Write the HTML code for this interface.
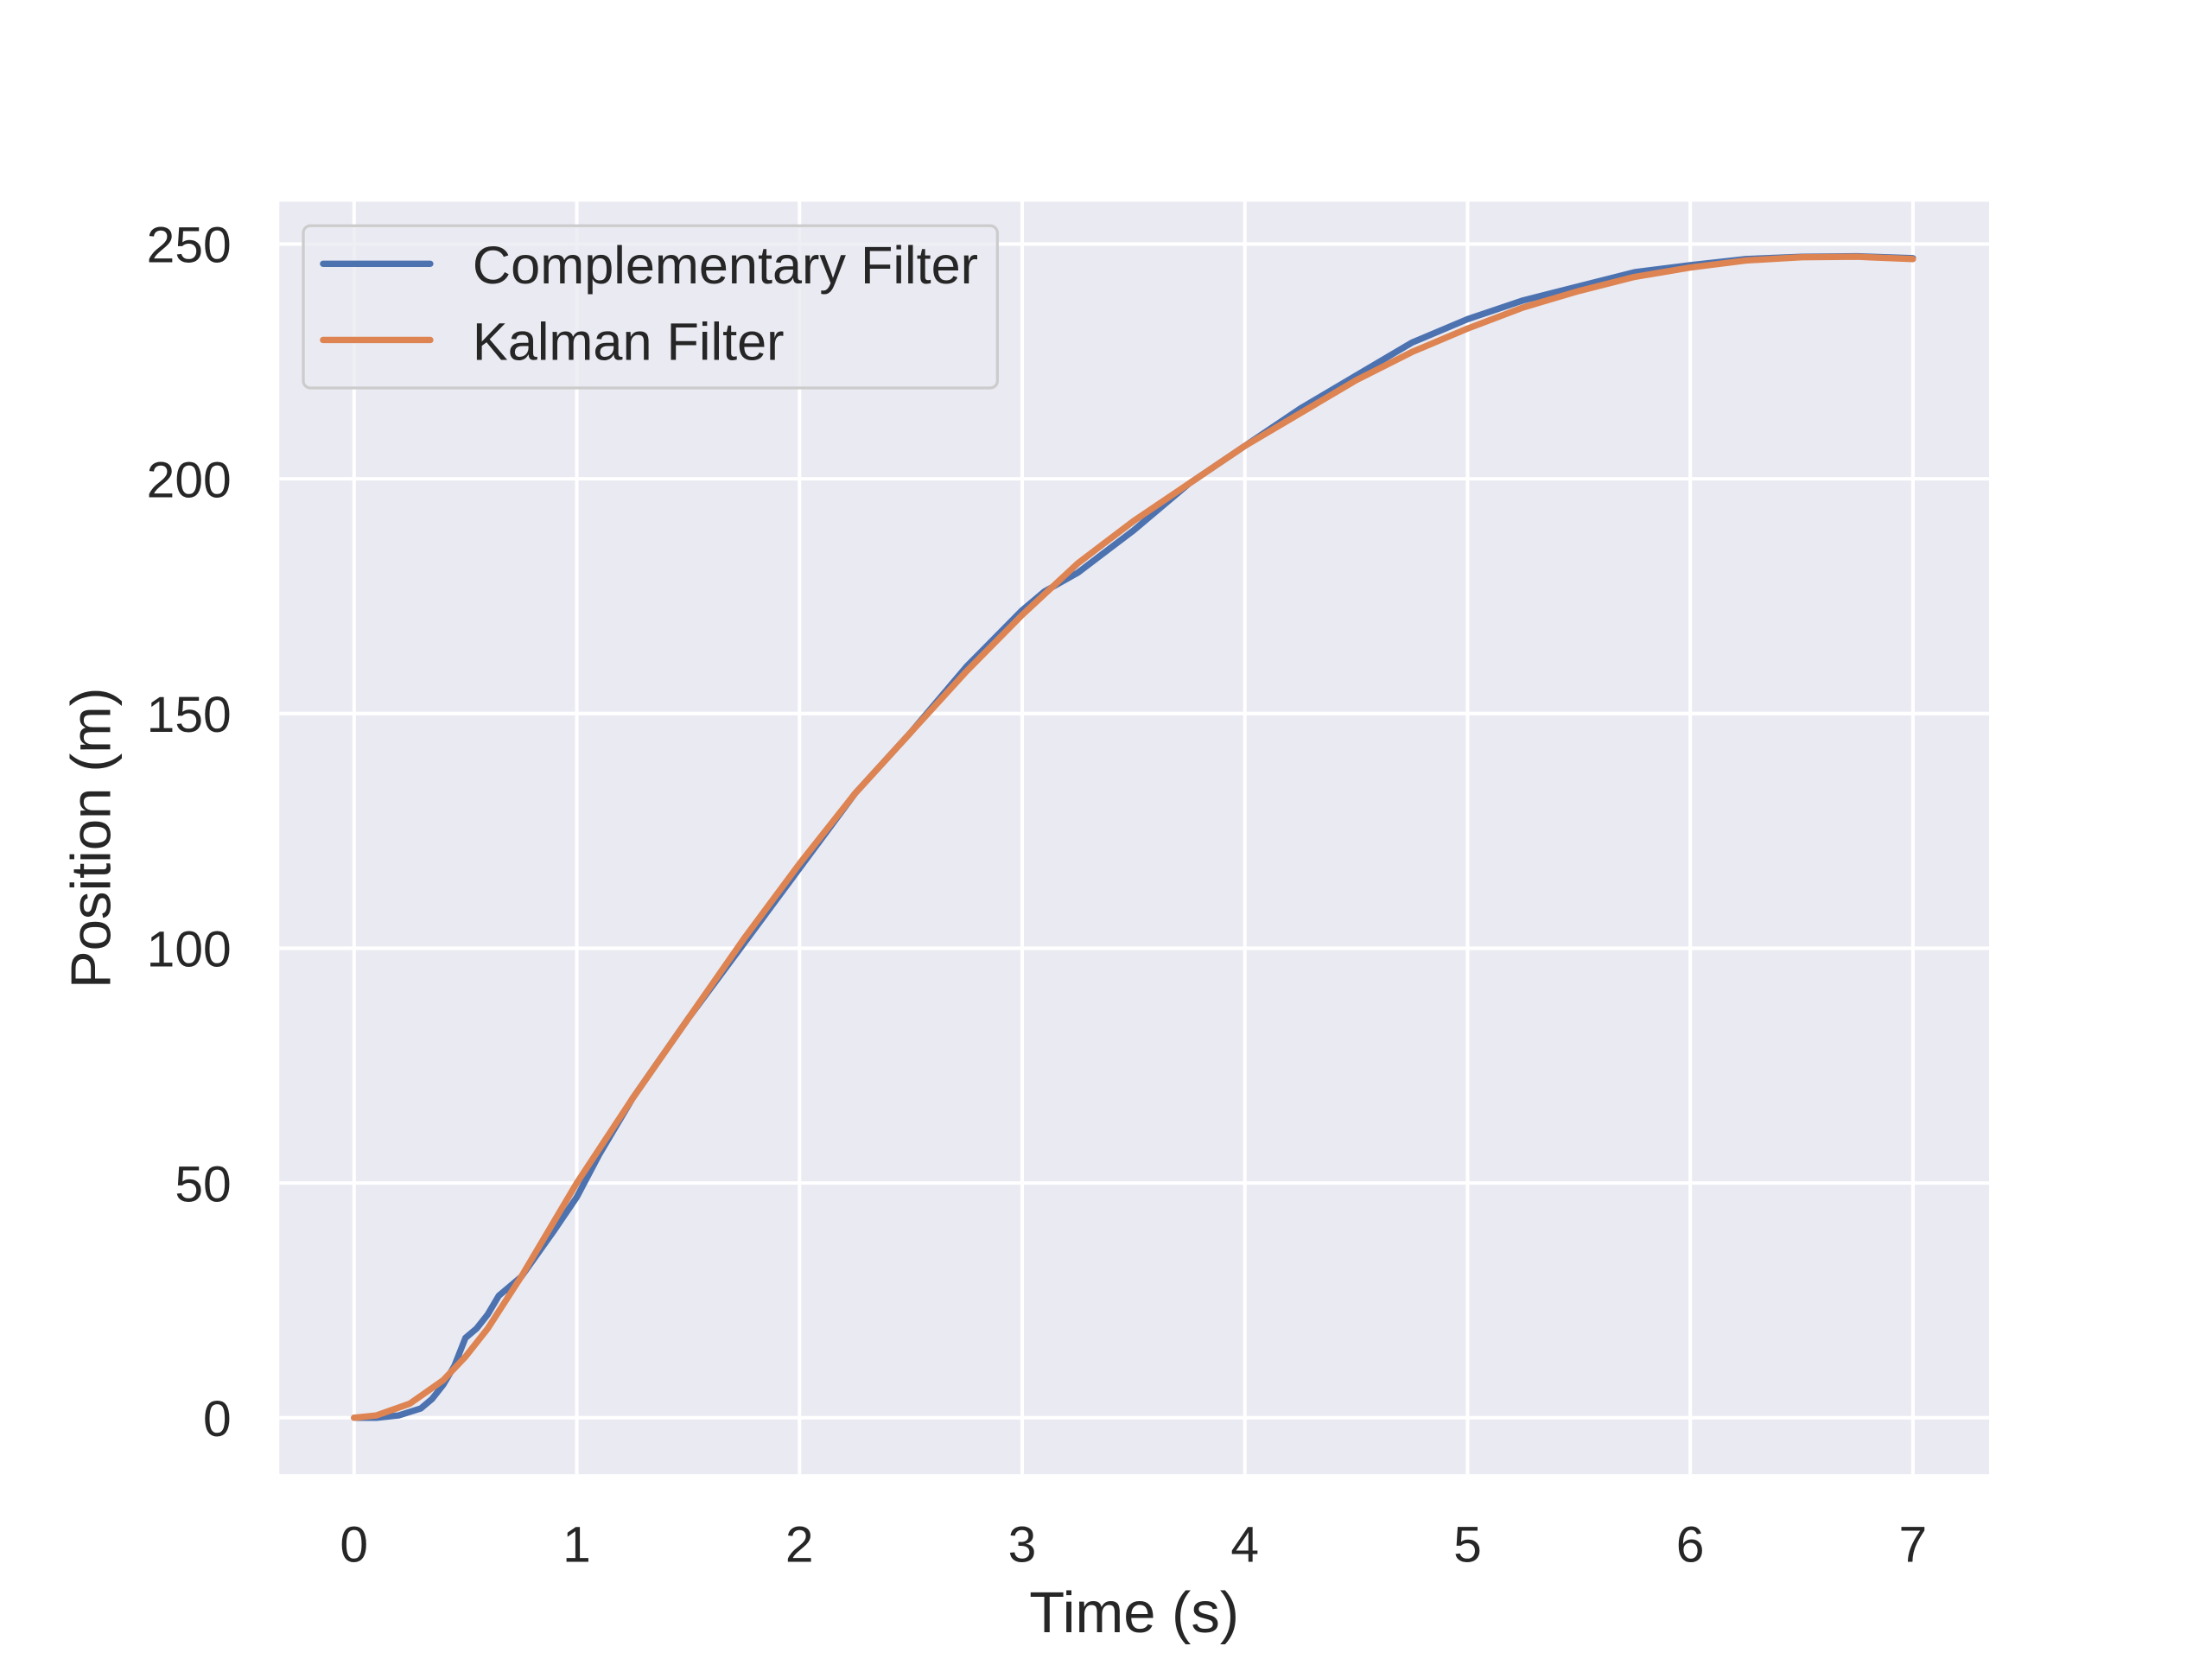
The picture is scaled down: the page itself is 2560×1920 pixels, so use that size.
<!DOCTYPE html>
<html><head><meta charset="utf-8"><style>html,body{margin:0;padding:0;background:#fff}svg{display:block}</style></head>
<body>
<svg width="2560" height="1920" viewBox="0 0 1568 1176" xmlns="http://www.w3.org/2000/svg" font-family="Liberation Sans, Arial, sans-serif">
<rect x="198" y="143" width="1212" height="902" fill="#eaeaf2"/>
<g id="grid"></g>
<g id="ticks" fill="#262626" font-size="36"></g>
<g id="series"></g>
<text x="804" y="1157" text-anchor="middle" font-size="41" fill="#262626">Time (s)</text>
<text transform="translate(78,594) rotate(-90)" text-anchor="middle" font-size="40" fill="#262626">Position (m)</text>
<g>
<rect x="215" y="160" width="492" height="115" rx="5" fill="#eaeaf2" fill-opacity="0.8" stroke="#cccccc" stroke-width="2"/>
<line x1="229" y1="187" x2="305" y2="187" stroke="#4c72b0" stroke-width="4.5" stroke-linecap="round"/>
<text x="335" y="201" font-size="37.5" fill="#262626">Complementary Filter</text>
<line x1="229" y1="241" x2="305" y2="241" stroke="#dd8452" stroke-width="4.5" stroke-linecap="round"/>
<text x="335" y="255" font-size="37.5" fill="#262626">Kalman Filter</text>
</g>
</svg>
<script>
const xTicks=[0,1,2,3,4,5,6,7];
const yTicks=[0,50,100,150,200,250];
const compT=[0,0.1,0.2,0.3,0.35,0.4,0.45,0.5,0.55,0.6,0.65,0.7,0.75,0.9,1,1.1,1.25,1.5,1.75,2,2.25,2.5,2.75,3,3.1,3.25,3.5,3.75,4,4.25,4.5,4.75,5,5.25,5.5,5.75,6,6.25,6.5,6.75,7];
const compY=[0,0,0.5,2,4,7,11,17,19,22,26,28,30,40,47,56,68,85,101,117,133,146,160,172,176,180,189,199,207,215,222,229,234,238,241,244,245.5,246.8,247.3,247.4,247];
const kalT=[0,0.1,0.25,0.4,0.5,0.6,0.75,0.9,1,1.25,1.5,1.75,2,2.25,2.5,2.75,3,3.25,3.5,3.75,4,4.25,4.5,4.75,5,5.25,5.5,5.75,6,6.25,6.5,6.75,7];
const kalY=[0,0.5,3,8,13,19,30,42,50,68,85,102,118,133,146,159,171,182,191,199,207,214,221,227,232,236.5,240,243,245,246.5,247.2,247.3,246.8];
const X=t=>251+t*(1356-251)/7, Y=v=>1005-v*(1005-173)/250;
const NS='http://www.w3.org/2000/svg';
const grid=document.getElementById('grid'), ticks=document.getElementById('ticks'), series=document.getElementById('series');
xTicks.forEach(t=>{
 const l=document.createElementNS(NS,'line');
 
 
 l.setAttribute('x1',X(t));l.setAttribute('x2',X(t));l.setAttribute('y1',143);l.setAttribute('y2',1045);
 l.setAttribute('stroke','#fff');l.setAttribute('stroke-width','2.5');grid.appendChild(l);
 const s=document.createElementNS(NS,'text');
 
 
 s.setAttribute('x',X(t));s.setAttribute('y',1107);s.setAttribute('text-anchor','middle');s.textContent=t;ticks.appendChild(s);
});
yTicks.forEach(v=>{
 const l=document.createElementNS(NS,'line');
 
 
 l.setAttribute('x1',198);l.setAttribute('x2',1410);l.setAttribute('y1',Y(v));l.setAttribute('y2',Y(v));
 l.setAttribute('stroke','#fff');l.setAttribute('stroke-width','2.5');grid.appendChild(l);
 const s=document.createElementNS(NS,'text');
 
 
 s.setAttribute('x',164);s.setAttribute('y',Y(v)+13);s.setAttribute('text-anchor','end');s.textContent=v;ticks.appendChild(s);
});
function line(ts,vs,color,name){
 const p=document.createElementNS(NS,'polyline');
 
 
 p.setAttribute('points',ts.map((t,i)=>X(t)+','+Y(vs[i])).join(' '));
 p.setAttribute('fill','none');p.setAttribute('stroke',color);p.setAttribute('stroke-width','4.5');
 p.setAttribute('stroke-linejoin','round');p.setAttribute('stroke-linecap','round');series.appendChild(p);
}
line(compT,compY,'#4c72b0','complementary-filter-line');
line(kalT,kalY,'#dd8452','kalman-filter-line');
</script>
</body></html>
